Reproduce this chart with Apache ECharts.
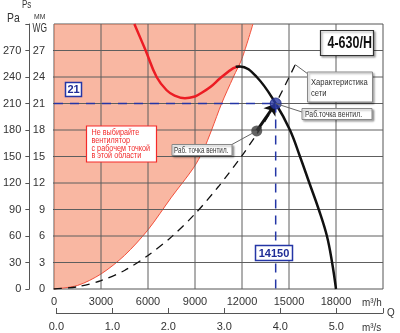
<!DOCTYPE html>
<html><head><meta charset="utf-8">
<script src="https://cdn.jsdelivr.net/npm/echarts@6/dist/echarts.min.js"></script>
<style>html,body{margin:0;padding:0;background:#fff}#c{width:400px;height:333px}</style>
</head><body><div id="c"></div>
<script>
// ---- data ----
const flowMaxM3h = 21000;
const pressureMaxMm = 30;
const flowTicksM3h = [0, 3000, 6000, 9000, 12000, 15000, 18000];
const flowTicksM3s = [0, 1, 2, 3, 4, 5];
const pressureTicksMm = [0, 3, 6, 9, 12, 15, 18, 21, 24, 27];
const pressureTicksPa = [0, 30, 60, 90, 120, 150, 180, 210, 240, 270];
const forbiddenBoundary = [[0,0],[1500,0.4],[3000,1.7],[4500,3.8],[6000,6.7],[7500,10.4],[8900,13.7],[9530,15.7],[10060,18],[10700,21],[11450,24],[12000,26.1],[12700,30]];
const fanCurveUnstable = [[5130,30],[5850,27],[6550,24],[7190,22.5],[7700,21.9],[8360,21.6],[9000,21.8],[9320,22.1],[10000,22.9],[10600,23.85],[11450,25.0],[11870,25.2]];
const fanCurveStable = [[11600,25.15],[11870,25.2],[12940,24],[14150,21],[15060,18],[15700,15],[16300,12],[16900,9],[17420,6],[17750,3],[18000,0]];
const systemCurve = [[0,0],[1500,0.25],[3000,0.95],[4500,2.1],[6000,3.8],[7500,5.9],[9000,8.5],[10500,11.6],[12000,15.1],[13000,17.7],[14150,21],[15400,25.4]];
const startPoint = [12940, 17.9];
const workPoint = [14150, 21];
const modelName = '4-630/H';
const warningLines = ['Не выбирайте', 'вентилятор', 'с рабочем точкой', 'в этой области'];
const systemLabel = ['Характеристика', 'сети'];
const workLabel = 'Раб.точка вентил.';
const startLabel = 'Раб. точка вентил.';

// ---- chart ----
const FONT = '"Liberation Sans", Arial, sans-serif';
const gridColor = '#5e5e5e';
const axisColor = '#555';
const chart = echarts.init(document.getElementById('c'));
const labelStyle = {fontFamily: FONT, fontSize: 11, color: '#333'};
const gridBox = {left: 54, top: 24, right: 17, bottom: 44};
const tickLenData = flowMaxM3h * 6 / 329; // 6px outward tick, in data units

function gridSeries(data, color) {
  return {type: 'line', data: data, showSymbol: false, silent: true, z: 3, clip: false,
    lineStyle: {color: color, width: 1, type: 'solid'}, emphasis: {disabled: true}};
}
const gridLineSeries = [];
flowTicksM3h.slice(1).forEach(v => gridLineSeries.push(gridSeries([[v, 0], [v, pressureMaxMm]], gridColor)));
pressureTicksMm.forEach(v => {
  if (v > 0) gridLineSeries.push(gridSeries([[0, v], [flowMaxM3h, v]], gridColor));
  gridLineSeries.push(gridSeries([[-tickLenData, v], [0, v]], axisColor));
});

const option = {
  animation: false,
  grid: [
    Object.assign({show: true, borderColor: '#555', borderWidth: 1}, gridBox),
    Object.assign({show: false}, gridBox)
  ],
  xAxis: [
    {type: 'value', gridIndex: 0, min: 0, max: flowMaxM3h, interval: 3000, position: 'bottom',
     axisLine: {show: false}, axisTick: {show: false}, splitLine: {show: false},
     axisLabel: Object.assign({margin: 7, formatter: v => flowTicksM3h.includes(v) ? String(v) : ''}, labelStyle)},
    {type: 'value', gridIndex: 1, min: 0, max: flowMaxM3h / 3600, interval: 1, position: 'bottom', offset: 24,
     axisLine: {show: true, onZero: false, lineStyle: {color: axisColor, width: 1}},
     axisTick: {show: true, inside: true, length: 5, lineStyle: {color: axisColor}},
     splitLine: {show: false},
     axisLabel: Object.assign({margin: 8, formatter: v => flowTicksM3s.includes(v) ? v.toFixed(1) : ''}, labelStyle)}
  ],
  yAxis: [
    {type: 'value', gridIndex: 0, min: 0, max: pressureMaxMm, interval: 3, position: 'left',
     axisLine: {show: false}, axisTick: {show: false}, splitLine: {show: false},
     axisLabel: Object.assign({margin: 9, formatter: v => pressureTicksMm.includes(v) ? String(v) : ''}, labelStyle)},
    {type: 'value', gridIndex: 1, min: 0, max: pressureMaxMm * 10, interval: 30, position: 'left', offset: 27,
     axisLine: {show: true, onZero: false, lineStyle: {color: axisColor, width: 1}},
     axisTick: {show: true, length: 4, lineStyle: {color: axisColor}},
     splitLine: {show: false},
     axisLabel: Object.assign({margin: 8, formatter: v => pressureTicksPa.includes(v) ? String(v) : ''}, labelStyle)}
  ],
  series: [
    {type: 'line', data: forbiddenBoundary, smooth: 0.3, showSymbol: false, silent: true, z: 2,
     lineStyle: {color: '#f2503c', width: 1}, areaStyle: {origin: 'end', color: 'rgba(243,112,70,0.5)', opacity: 1}}
  ].concat(gridLineSeries).concat([
    {type: 'line', data: systemCurve, smooth: 0.3, showSymbol: false, silent: true, z: 5,
     lineStyle: {color: '#111', width: 1.3, type: [8, 6]}},
    {type: 'line', data: fanCurveUnstable, smooth: 0.4, showSymbol: false, silent: true, z: 5,
     lineStyle: {color: '#ec1c24', width: 2.5}},
    {type: 'line', data: fanCurveStable, smooth: 0.4, showSymbol: false, silent: true, z: 5,
     lineStyle: {color: '#111', width: 2.5}},
    {type: 'line', data: [[0, workPoint[1]], workPoint], showSymbol: false, silent: true, z: 5,
     lineStyle: {color: '#2436a6', width: 1.5, type: [9, 7]}},
    {type: 'line', data: [workPoint, [workPoint[0], 0]], showSymbol: false, silent: true, z: 5,
     lineStyle: {color: '#2436a6', width: 1.5, type: [9, 7]}},
    {type: 'scatter', data: [startPoint], symbolSize: 11, z: 6, silent: true,
     itemStyle: {color: '#3c3c3c'},
     markLine: {silent: true, symbol: ['none', 'arrow'], symbolSize: 11, animation: false,
       label: {show: false}, lineStyle: {color: '#111', width: 3, type: 'solid'},
       data: [[{coord: startPoint}, {coord: workPoint}]]}},
    {type: 'scatter', data: [workPoint], symbolSize: 11, z: 7, silent: true,
     itemStyle: {color: '#2a3aa4', borderColor: '#1a2580', borderWidth: 1}}
  ])
};
chart.setOption(option);

function px(p) { return chart.convertToPixel({xAxisIndex: 0, yAxisIndex: 0}, p); }
function box(x, y, w, h, stroke, lw, shadow) {
  return {type: 'rect', shape: {x: x, y: y, width: w, height: h}, z: 10,
    style: {fill: '#fff', stroke: stroke, lineWidth: lw,
      shadowBlur: shadow ? 2 : 0, shadowOffsetX: shadow ? 1.5 : 0, shadowOffsetY: shadow ? 1.5 : 0, shadowColor: 'rgba(0,0,0,0.35)'}};
}
function txt(t, x, y, size, color, opts) {
  opts = opts || {};
  return {type: 'text', x: x, y: y, z: 11, scaleX: opts.sx || 1, originX: 0, originY: 0,
    style: {text: t, font: (opts.bold ? 'bold ' : '') + size + 'px ' + FONT, fill: color,
      textAlign: opts.align || 'left', textVerticalAlign: 'middle'}};
}
function seg(a, b, color, z) {
  return {type: 'line', z: z, silent: true, shape: {x1: a[0], y1: a[1], x2: b[0], y2: b[1]}, style: {stroke: color, lineWidth: 1}};
}
const g = [];
const pSys = px(systemCurve[systemCurve.length - 1]);
const pWork = px(workPoint);
const pStart = px(startPoint);
// axis titles
g.push(txt('Pa', 7, 18, 13, '#333', {sx: 0.8}));
g.push(txt('Ps', 22, 5, 10, '#333', {sx: 0.8}));
g.push(txt('MM', 34, 17, 8, '#333', {sx: 0.85}));
g.push(txt('WG', 32.5, 29, 12, '#333', {sx: 0.7}));
g.push(txt('m³/h', 362, 303, 11, '#333', {sx: 0.9}));
g.push(txt('m³/s', 362, 328, 11, '#333', {sx: 0.9}));
g.push(txt('Q', 387, 313, 11, '#333', {sx: 0.9}));
// title box
g.push(box(320.5, 30.5, 53, 25, '#333', 1.2, true));
g.push(txt(modelName, 327.5, 43.5, 16, '#111', {bold: true, sx: 0.78}));
// value boxes
g.push(box(65.5, 82.5, 16, 14, '#2436a6', 1.5, false));
g.push(txt(String(workPoint[1]), 73.5, 90, 11, '#1e2c96', {bold: true, align: 'center'}));
g.push(box(255.5, 245.5, 37, 15, '#2436a6', 1.5, false));
g.push(txt(String(workPoint[0]), 274, 253.5, 11, '#1e2c96', {bold: true, align: 'center'}));
// system curve label
g.push(seg(pSys, [308, 74], '#666', 9));
g.push(box(307.5, 72, 65, 30, '#888', 1, true));
g.push(txt(systemLabel[0], 311, 82.5, 9, '#333', {sx: 0.85}));
g.push(txt(systemLabel[1], 311, 93.5, 9, '#333', {sx: 0.85}));
// work point label
g.push(seg(pWork, [302, 112], '#666', 9));
g.push(box(302, 108.5, 70, 11, '#888', 1, true));
g.push(txt(workLabel, 305, 114.5, 9, '#333', {sx: 0.76}));
// start point label
g.push(seg(pStart, [231, 145], '#666', 9));
g.push(box(172, 144.5, 60, 11, '#888', 1, true));
g.push(txt(startLabel, 174, 150.5, 9, '#333', {sx: 0.7}));
// warning box
g.push(box(86.5, 126, 70, 36, '#f52a2a', 1.2, false));
warningLines.forEach((l, i) => g.push(txt(l, 91.5, 133 + i * 7.7, 8.5, '#f22a2a', {sx: 0.85})));
chart.setOption({graphic: g});
</script>
</body></html>
